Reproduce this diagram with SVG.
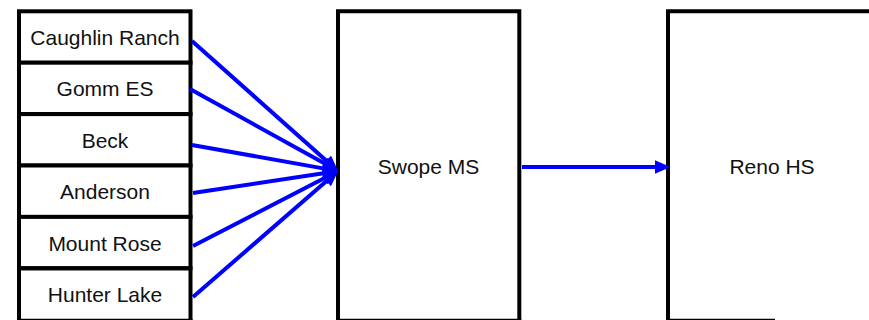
<svg xmlns="http://www.w3.org/2000/svg" width="869" height="320" viewBox="0 0 869 320">
<style>
.box{fill:#fff;stroke:#000;stroke-width:4}
.edge{fill:none;stroke:#000;stroke-width:4}
.thin{fill:none;stroke:#000;stroke-width:1.3}
.lbl{font-family:"Liberation Sans",Arial,sans-serif;font-size:21px;fill:#111;text-anchor:middle}
.conn{stroke:#0000ff;stroke-width:4;fill:none;marker-end:url(#ah)}
</style>
<defs>
<marker id="ah" markerUnits="userSpaceOnUse" markerWidth="16" markerHeight="14" viewBox="0 0 15 13" refX="7" refY="6.5" orient="auto">
<path d="M0,0 L15,6.5 L0,13 z" fill="#0000ff"/>
</marker>
</defs>
<rect width="869" height="320" fill="#fff"/>
<g id="caughlin"><rect class="box" x="19" y="11.3" width="171.5" height="51.4"/><text class="lbl" x="105" y="45">Caughlin Ranch</text></g>
<g id="gomm"><rect class="box" x="19" y="62.7" width="171.5" height="51.4"/><text class="lbl" x="105" y="96.4">Gomm ES</text></g>
<g id="beck"><rect class="box" x="19" y="114.1" width="171.5" height="51.4"/><text class="lbl" x="105" y="147.8">Beck</text></g>
<g id="anderson"><rect class="box" x="19" y="165.5" width="171.5" height="51.4"/><text class="lbl" x="105" y="199.2">Anderson</text></g>
<g id="mountrose"><rect class="box" x="19" y="216.9" width="171.5" height="51.4"/><text class="lbl" x="105" y="250.6">Mount Rose</text></g>
<g id="hunterlake"><path class="edge" d="M19,321 V268.3 H190.5 V321"/><line class="thin" x1="17" y1="319.4" x2="192.5" y2="319.4"/><text class="lbl" x="105" y="302">Hunter Lake</text></g>
<g id="swope"><path class="edge" d="M338,321 V11.3 H519.3 V321"/><line class="thin" x1="336" y1="319.4" x2="521.3" y2="319.4"/><text class="lbl" x="428.5" y="174">Swope MS</text></g>
<g id="reno"><path class="edge" d="M668,321 V11.3 H880"/><line class="thin" x1="666" y1="319.4" x2="775" y2="319.4"/><text class="lbl" x="772" y="174">Reno HS</text></g>
<g id="connectors">
<line class="conn" x1="192" y1="41" x2="332" y2="165.7"/>
<line class="conn" x1="190" y1="89" x2="331" y2="167.1"/>
<line class="conn" x1="192" y1="145" x2="330.1" y2="169.6"/>
<line class="conn" x1="193" y1="193" x2="330.1" y2="172.2"/>
<line class="conn" x1="193" y1="246" x2="330.9" y2="174.7"/>
<line class="conn" x1="193" y1="297" x2="332" y2="176.2"/>
<line class="conn" x1="522" y1="167" x2="662" y2="167"/>
</g>
</svg>
